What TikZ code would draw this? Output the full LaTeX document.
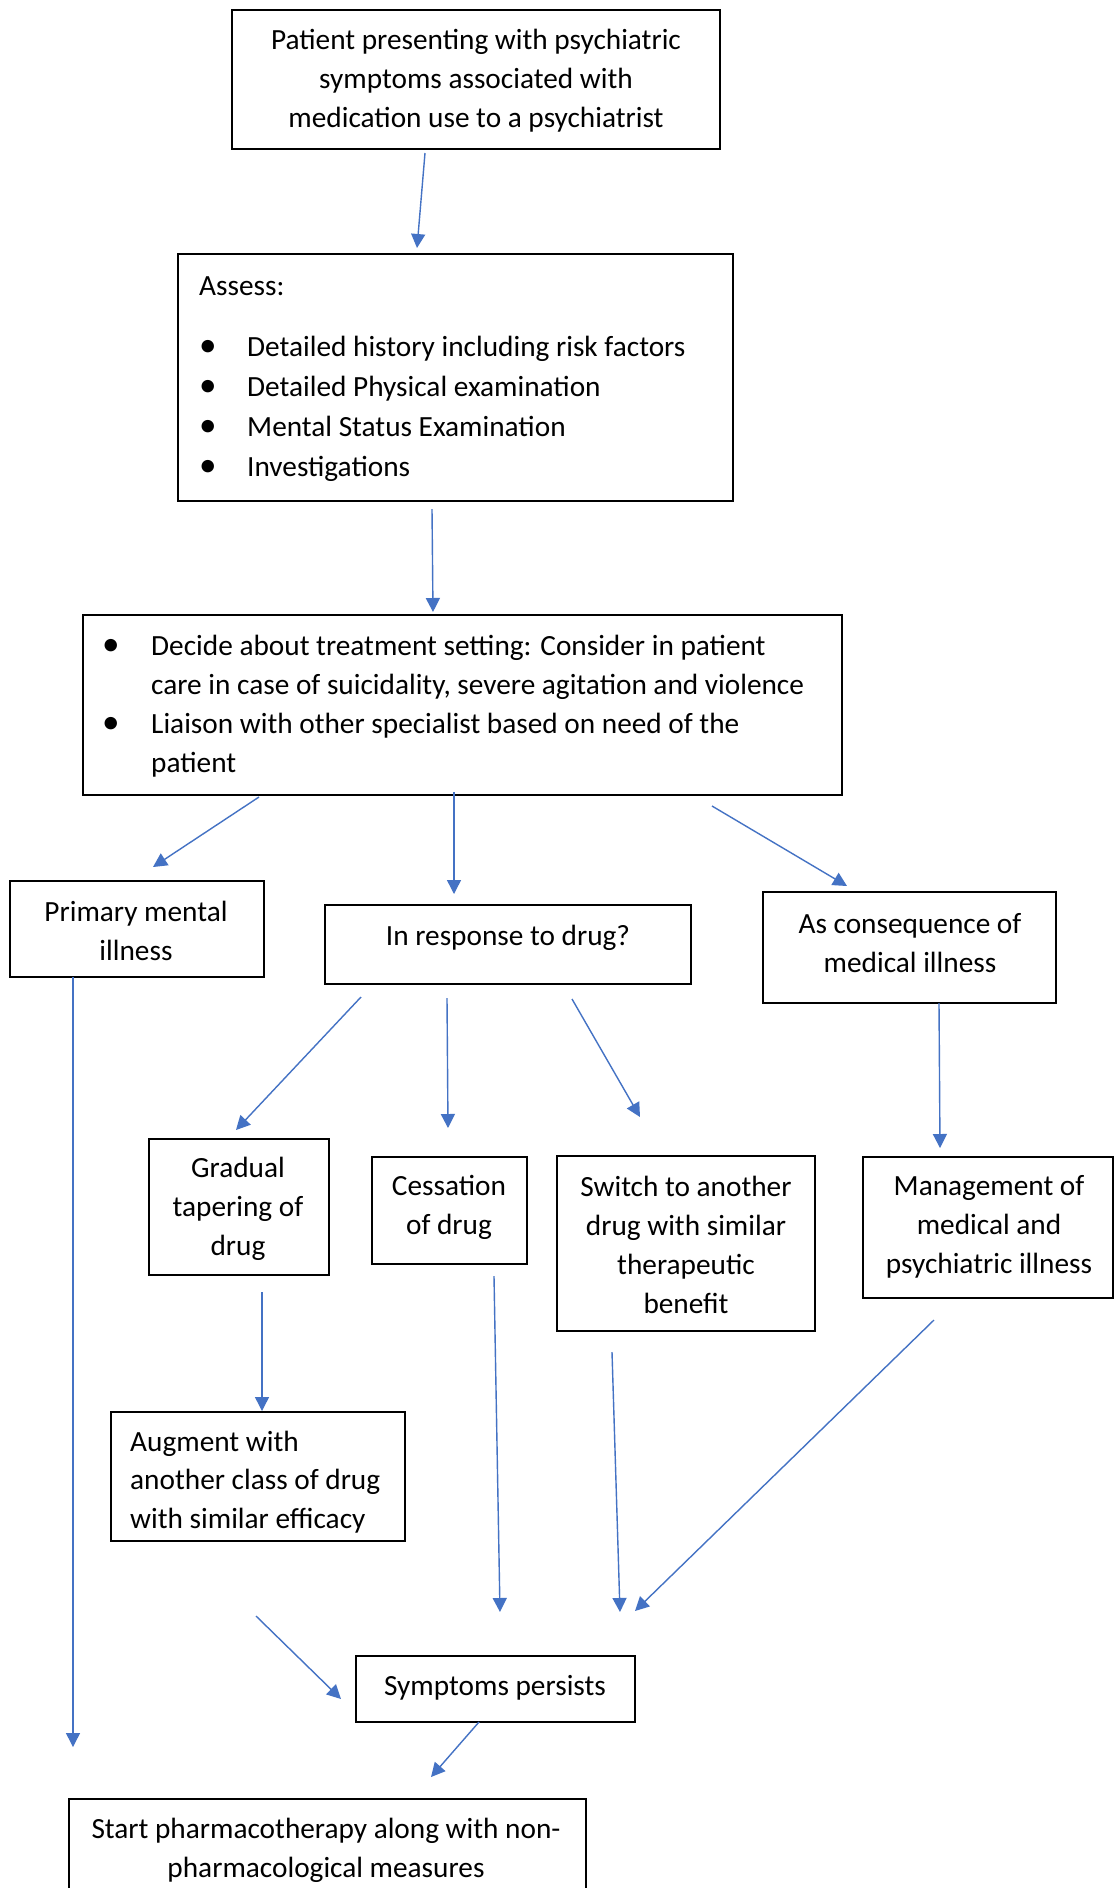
\documentclass[tikz,border=0pt]{standalone}
\usepackage{fontspec}
\setmainfont{Carlito}
\usetikzlibrary{arrows.meta}
\definecolor{arrowblue}{RGB}{68,114,196}
\tikzset{
  box/.style={draw=black, line width=1.3pt, inner sep=0pt, fill=none},
  txt/.style={font=\fontsize{29.3}{38.8}\selectfont, inner sep=0pt, align=center, text=black},
  ltxt/.style={txt, align=left, anchor=west},
  arr/.style={draw=arrowblue, line width=1.4pt, -{Triangle[length=14pt,width=14pt]}}
}
\newcommand{\bul}[1]{\makebox[#1][l]{\scalebox{1.2}{\textbullet}}}
\begin{document}
\begin{tikzpicture}[x=1pt,y=-1pt]
\useasboundingbox (0,0) rectangle (1115,1888);
\fill[white] (0,0) rectangle (1115,1888);

% boxes
\node[box, minimum width=488pt, minimum height=139pt] (present) at (476,79.5) {};
\node[box, minimum width=555pt, minimum height=247pt] (assess) at (455.5,377.5) {};
\node[box, minimum width=759pt, minimum height=180pt] (decide) at (462.5,705) {};
\node[box, minimum width=254pt, minimum height=96pt] (primary) at (137,929) {};
\node[box, minimum width=366pt, minimum height=79pt] (response) at (508,944.5) {};
\node[box, minimum width=293pt, minimum height=111pt] (conseq) at (909.5,947.5) {};
\node[box, minimum width=180pt, minimum height=136pt] (taper) at (239,1207) {};
\node[box, minimum width=155pt, minimum height=107pt] (cease) at (449.5,1210.5) {};
\node[box, minimum width=258pt, minimum height=175pt] (switch) at (686,1243.5) {};
\node[box, minimum width=250pt, minimum height=141pt] (manage) at (988,1227.5) {};
\node[box, minimum width=294pt, minimum height=129pt] (augment) at (258,1476.5) {};
\node[box, minimum width=279pt, minimum height=66pt] (persist) at (495.5,1689) {};
\node[box, minimum width=517pt, minimum height=110pt] (start) at (327.5,1854) {};

% texts
\node[txt] (presentT) at (476,80.5) {Patient presenting with psychiatric\\symptoms associated with\\medication use to a psychiatrist};
\node[ltxt, font=\fontsize{29.3}{40}\selectfont] (assessT) at (199,379) {Assess:\\[21pt]\bul{48pt}Detailed history including risk factors\\
\bul{48pt}Detailed Physical examination\\
\bul{48pt}Mental Status Examination\\
\bul{48pt}Investigations};
\node[ltxt, font=\fontsize{29.3}{39}\selectfont] (decideT) at (102,706) {\bul{49pt}Decide about treatment setting: Consider in patient\\
\hspace*{49pt}care in case of suicidality, severe agitation and violence\\
\bul{49pt}Liaison with other specialist based on need of the\\
\hspace*{49pt}patient};
\node[txt] (primaryT) at (136,931) {Primary mental\\illness};
\node[txt] (responseT) at (508,938) {In response to drug?};
\node[txt] (conseqT) at (910,943) {As consequence of\\medical illness};
\node[txt] (taperT) at (238,1209) {Gradual\\tapering of\\drug};
\node[txt] (ceaseT) at (449,1207) {Cessation\\of drug};
\node[txt] (switchT) at (686,1245) {Switch to another\\drug with similar\\therapeutic\\benefit};
\node[txt] (manageT) at (989,1226.5) {Management of\\medical and\\psychiatric illness};
\node[ltxt] (augmentT) at (130,1482) {Augment with\\another class of drug\\with similar efficacy};
\node[txt] (persistT) at (495,1688) {Symptoms persists};
\node[txt] (startT) at (326,1850) {Start pharmacotherapy along with non-\\pharmacological measures};

% connector ends
\coordinate (p1) at (425,153);  \coordinate (q1) at (417,248);
\coordinate (p2) at (432,509);  \coordinate (q2) at (433,612);
\coordinate (p3) at (259,797);  \coordinate (q3) at (153,867);
\coordinate (p4) at (454,792);  \coordinate (q4) at (454,894);
\coordinate (p5) at (712,806);  \coordinate (q5) at (847,886);
\coordinate (p6) at (73,977);   \coordinate (q6) at (73,1747);
\coordinate (p7) at (361,997);  \coordinate (q7) at (236,1130);
\coordinate (p8) at (447,998);  \coordinate (q8) at (448,1128);
\coordinate (p9) at (572,999);  \coordinate (q9) at (640,1117);
\coordinate (p10) at (939,1003); \coordinate (q10) at (940,1148);
\coordinate (p11) at (262,1292); \coordinate (q11) at (262,1411);
\coordinate (p12) at (494,1276); \coordinate (q12) at (500,1612);
\coordinate (p13) at (612,1352); \coordinate (q13) at (620,1612);
\coordinate (p14) at (934,1320); \coordinate (q14) at (635,1611);
\coordinate (p15) at (256,1616); \coordinate (q15) at (341,1699);
\coordinate (p16) at (479,1722); \coordinate (q16) at (431,1777);

\foreach \i in {1,...,16} {\draw[arr] (p\i) -- (q\i);}
\end{tikzpicture}
\end{document}
